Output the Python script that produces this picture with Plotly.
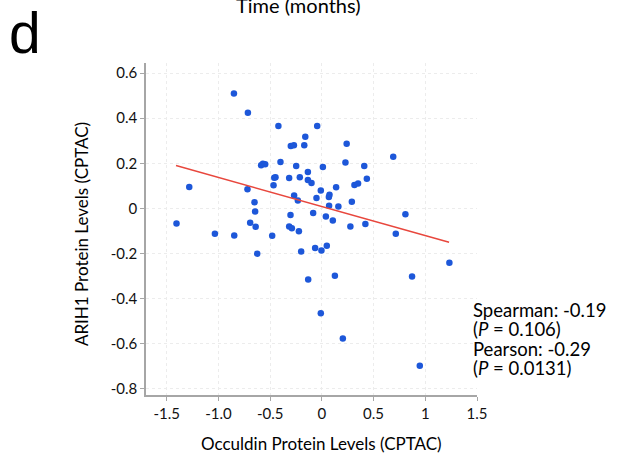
import plotly.graph_objects as go

# Data
occludin = [-0.85, -0.715, -0.42, -0.045, -0.16, -0.30, -0.27, -0.17, 0.24, 0.69,
            -0.587, -0.57, -0.548, -0.40, -0.248, -0.135, 0.01, 0.228, 0.41, 0.435,
            -0.46, -0.448, -0.316, -0.213, -0.135, -0.10, -0.467, 0.315, 0.35, 0.138,
            -1.282, -0.719, -0.01, -0.268, 0.074, 0.068, -0.232, -0.052, -0.651, 0.29,
            0.07, 0.16, -0.645, -0.084, -0.303, 0.808, 0.039, -1.405, -0.693, 0.106,
            0.421, -0.64, -0.316, -0.29, 0.276, -0.222, -1.034, -0.847, -0.48, 0.715,
            -0.625, -0.2, -0.065, -0.004, 0.048, 1.233, -0.132, 0.126, 0.872, -0.01,
            0.203, 0.947]
arih1 = [0.51, 0.424, 0.365, 0.366, 0.318, 0.277, 0.28, 0.28, 0.287, 0.229,
         0.191, 0.198, 0.196, 0.206, 0.188, 0.161, 0.184, 0.203, 0.188, 0.132,
         0.136, 0.138, 0.135, 0.138, 0.126, 0.113, 0.103, 0.104, 0.11, 0.094,
         0.095, 0.085, 0.079, 0.057, 0.06, 0.05, 0.035, 0.046, 0.027, 0.029,
         0.012, 0.008, -0.014, -0.02, -0.029, -0.026, -0.036, -0.067, -0.064, -0.054,
         -0.069, -0.082, -0.08, -0.088, -0.08, -0.101, -0.113, -0.12, -0.122, -0.113,
         -0.201, -0.191, -0.176, -0.187, -0.166, -0.241, -0.316, -0.299, -0.302, -0.465,
         -0.577, -0.698]

fit_x = [-1.41, 1.23]
fit_y = [0.19, -0.15]

x_tickvals = [-1.5, -1.0, -0.5, 0, 0.5, 1, 1.5]
x_ticktext = ["-1.5", "-1.0", "-0.5", "0", "0.5", "1", "1.5"]
y_tickvals = [0.6, 0.4, 0.2, 0, -0.2, -0.4, -0.6, -0.8]
y_ticktext = ["0.6", "0.4", "0.2", "0", "-0.2", "-0.4", "-0.6", "-0.8"]

stats_lines = ["Spearman: -0.19", "(<i>P</i> = 0.106)", "Pearson: -0.29", "(<i>P</i> = 0.0131)"]

FONT = "Lato"
fig = go.Figure()
fig.add_trace(go.Scatter(x=occludin, y=arih1, mode="markers",
                         marker=dict(color="#1d57d9", size=6.5), showlegend=False,
                         cliponaxis=False))
fig.add_trace(go.Scatter(x=fit_x, y=fit_y, mode="lines",
                         line=dict(color="#e8473d", width=1.5), showlegend=False))

axis_common = dict(showline=True, linecolor="#a6a6a6", linewidth=1.5,
                   showgrid=True, gridcolor="#ececec", griddash="dot", gridwidth=1,
                   zeroline=False, ticks="outside", ticklen=4, tickcolor="#a6a6a6",
                   tickfont=dict(family=FONT, size=15, color="#111"))
fig.update_xaxes(range=[-1.7, 1.5], tickvals=x_tickvals, ticktext=x_ticktext, **axis_common)
fig.update_yaxes(range=[-0.828, 0.645], tickvals=y_tickvals, ticktext=y_ticktext, **axis_common)

annotations = [
    dict(text="d", x=7, y=33, font=dict(family="Liberation Sans", size=57, color="#000"),
         xanchor="left", yanchor="middle"),
    dict(text="Time (months)", x=299, y=5, font=dict(family=FONT, size=20, color="#000"),
         xanchor="center", yanchor="middle"),
    dict(text="ARIH1 Protein Levels (CPTAC)", x=81, y=234, textangle=-90,
         font=dict(family=FONT, size=17, color="#000"), xanchor="center", yanchor="middle"),
    dict(text="Occuldin Protein Levels (CPTAC)", x=322, y=443,
         font=dict(family=FONT, size=17, color="#000"), xanchor="center", yanchor="middle"),
]
for i, line in enumerate(stats_lines):
    annotations.append(dict(text=line, x=471, y=310 + i * 19.3,
                            font=dict(family=FONT, size=18.5, color="#000"),
                            xanchor="left", yanchor="middle"))

L, R, T, B = 146, 150.5, 63, 68
W, H = 628, 463
pw, ph = W - L - R, H - T - B
for a in annotations:
    a["x"] = (a["x"] - L) / pw
    a["y"] = (H - B - a["y"]) / ph
    a["xref"] = "paper"
    a["yref"] = "paper"
    a["showarrow"] = False

fig.update_layout(width=W, height=H, margin=dict(l=L, r=R, t=T, b=B),
                  plot_bgcolor="white", paper_bgcolor="white",
                  annotations=annotations)
fig.write_html("out.html")
